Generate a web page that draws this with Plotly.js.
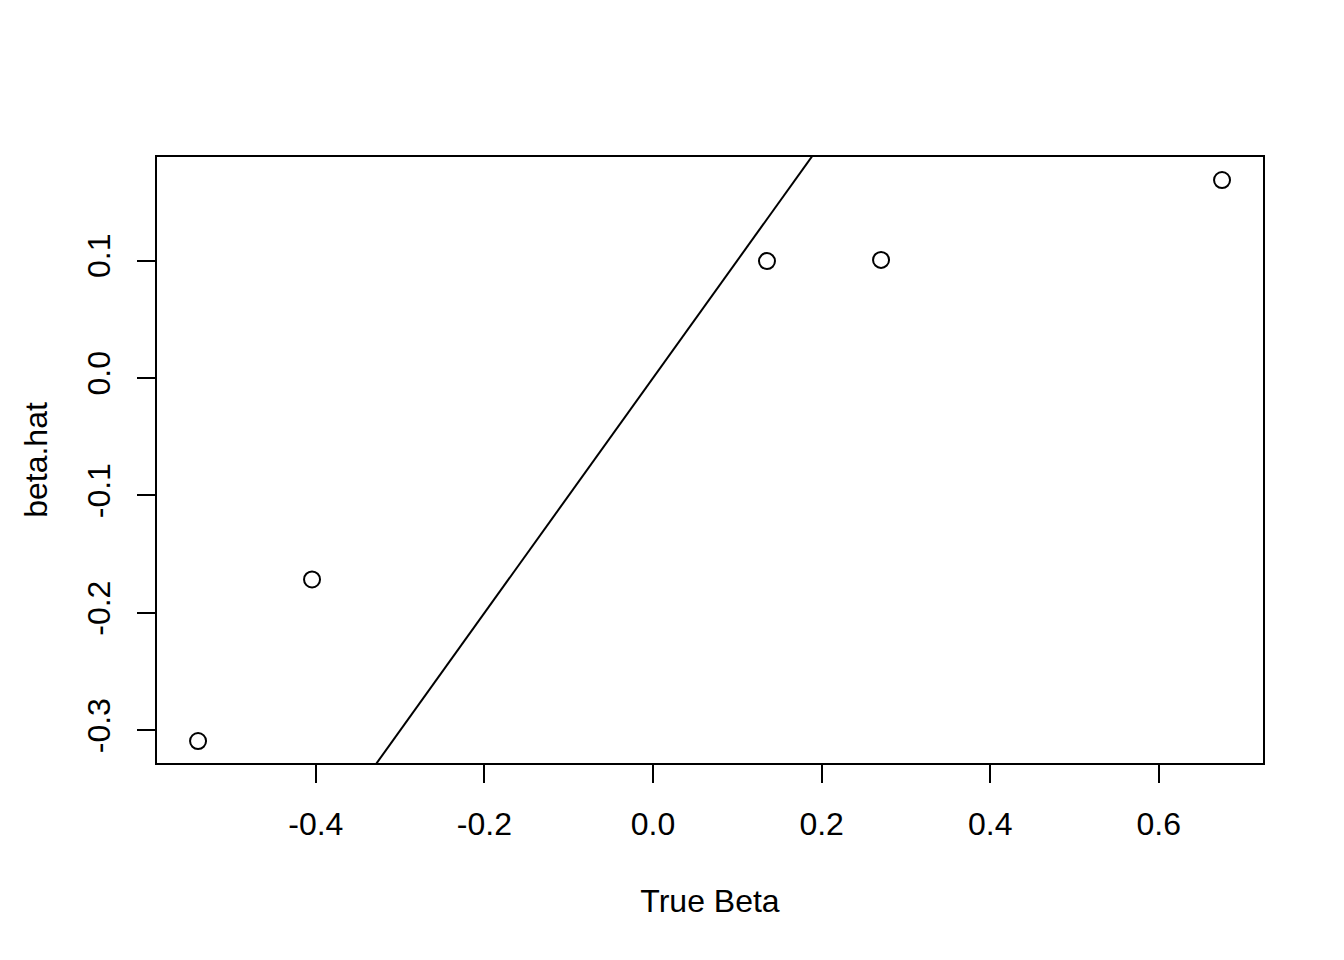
<!DOCTYPE html>
<html>
<head>
<meta charset="utf-8">
<script src="https://cdn.plot.ly/plotly-3.0.1.min.js"></script>
<style>html,body{margin:0;padding:0;background:#fff;}#chart{width:1344px;height:960px;}</style>
</head>
<body>
<div id="chart"></div>
<script>
const trueBeta = [-0.5397, -0.4045, 0.1352, 0.2705, 0.6750];
const betaHat = [-0.3090, -0.1715, 0.0995, 0.1005, 0.1685];
const ablineIntercept = 0;
const ablineSlope = 1;
const ablineX = [-1, 1];
const xTicks = [-0.4, -0.2, 0.0, 0.2, 0.4, 0.6];
const xTickText = ["-0.4", "-0.2", "0.0", "0.2", "0.4", "0.6"];
const yTicks = [-0.3, -0.2, -0.1, 0.0, 0.1];
const yTickText = ["-0.3", "-0.2", "-0.1", "0.0", "0.1"];

const font = {family: "Liberation Sans, Arial, sans-serif", size: 32, color: "#000"};

const traces = [
  {
    x: trueBeta, y: betaHat, type: "scatter", mode: "markers",
    marker: {symbol: "circle-open", size: 16, color: "#000", line: {width: 2, color: "#000"}},
    cliponaxis: false, hoverinfo: "skip"
  },
  {
    x: ablineX, y: ablineX.map(v => ablineIntercept + ablineSlope * v),
    type: "scatter", mode: "lines", line: {color: "#000", width: 2}, hoverinfo: "skip"
  }
];

const layout = {
  width: 1344, height: 960,
  paper_bgcolor: "#fff", plot_bgcolor: "#fff",
  showlegend: false,
  font: font,
  margin: {l: 157, r: 81, t: 157, b: 197, pad: 0},
  xaxis: {
    range: [-0.5884, 0.7236], tickvals: xTicks, ticktext: xTickText,
    showgrid: false, zeroline: false, showline: true, mirror: true, linecolor: "#000", linewidth: 2,
    ticks: "outside", ticklen: 18, tickwidth: 2, tickcolor: "#000", ticklabelstandoff: 14,
    tickfont: font,
    title: {text: "True Beta", font: font, standoff: 48}
  },
  yaxis: {
    range: [-0.3277, 0.1881], tickvals: yTicks, ticktext: yTickText,
    showgrid: false, zeroline: false, showline: true, mirror: true, linecolor: "#000", linewidth: 2,
    ticks: "outside", ticklen: 18, tickwidth: 2, tickcolor: "#000", tickangle: -90, ticklabelstandoff: 14,
    tickfont: font,
    title: {text: "beta.hat", font: font, standoff: 24}
  }
};

Plotly.newPlot("chart", traces, layout, {displayModeBar: false, staticPlot: true});
</script>
</body>
</html>
